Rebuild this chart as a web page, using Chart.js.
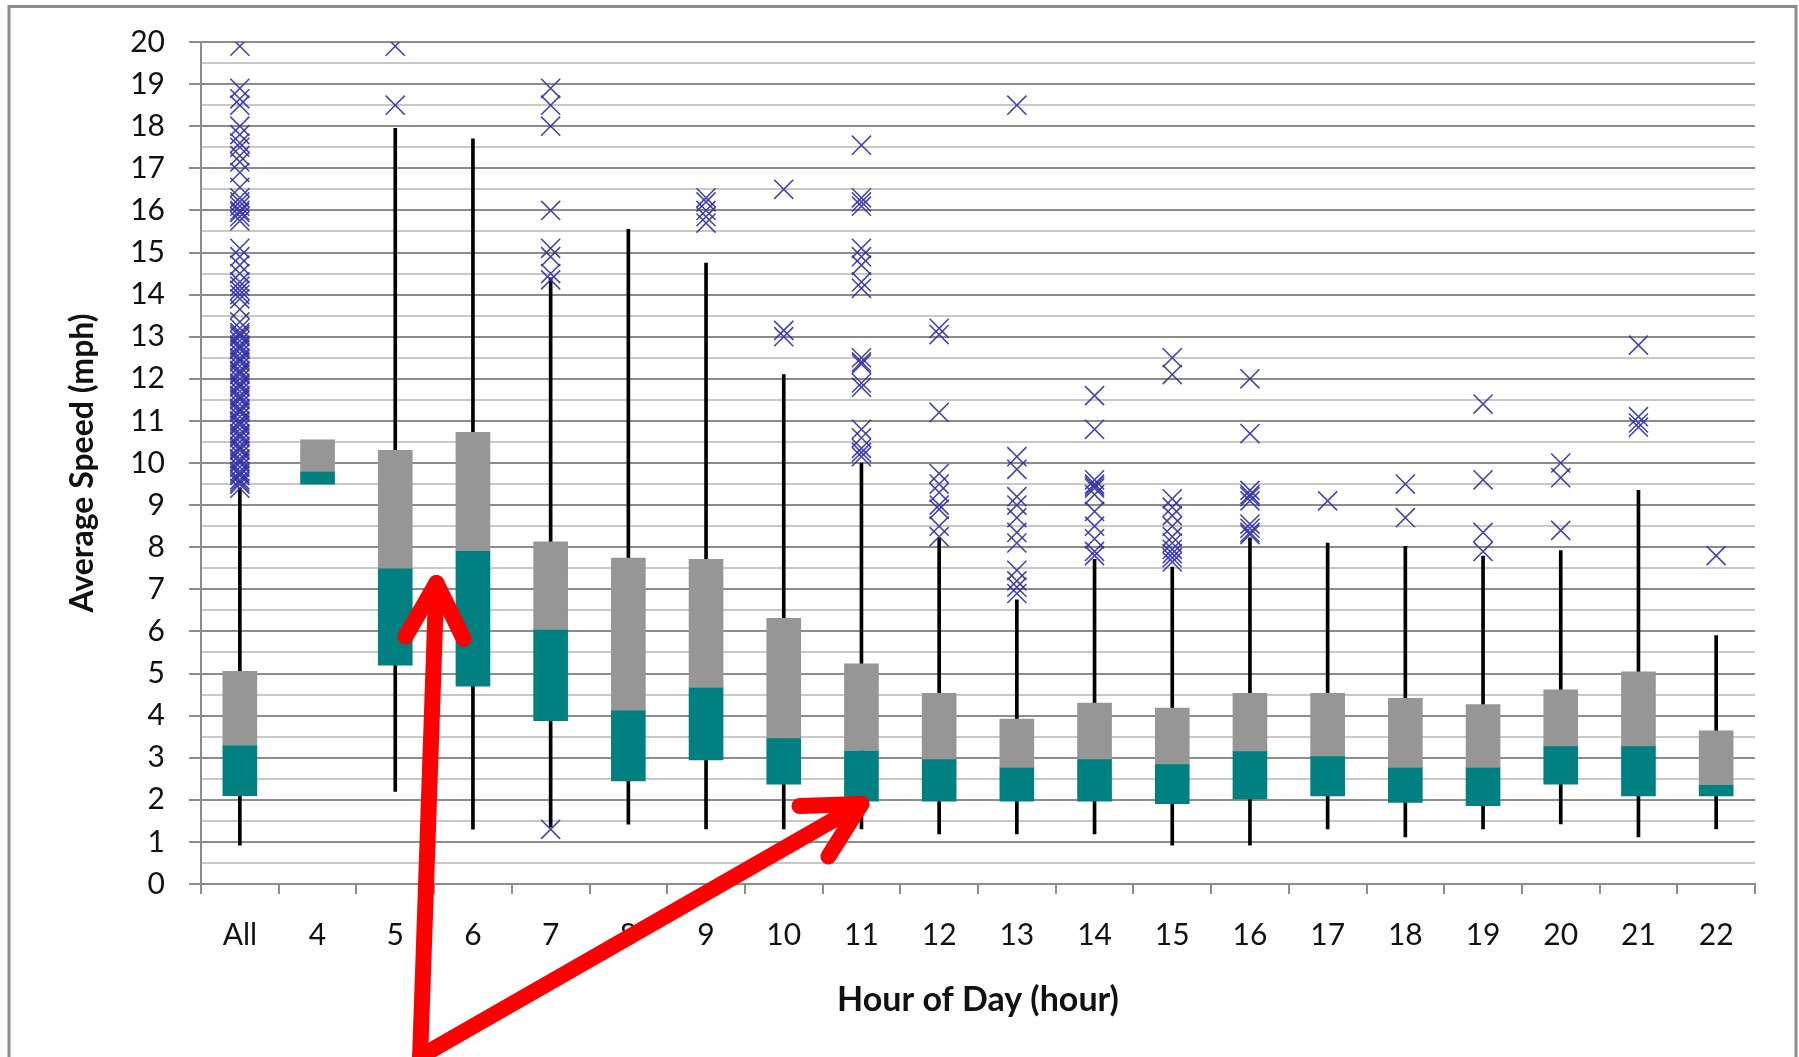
<!DOCTYPE html>
<html>
<head>
<meta charset="utf-8">
<script src="https://cdn.jsdelivr.net/npm/chart.js@4.4.1/dist/chart.umd.min.js"></script>
<style>
  html, body { margin: 0; padding: 0; background: #fff; }
  #wrap { width: 1799px; height: 1057px; }
</style>
</head>
<body>
<div id="wrap"><canvas id="speedChart" width="1799" height="1057"></canvas></div>
<script>
// categories and five-number summaries
var categories = ["All", "4", "5", "6", "7", "8", "9", "10", "11", "12", "13", "14", "15", "16", "17", "18", "19", "20", "21", "22"];
var whiskerLow = [0.92, null, 2.2, 1.3, 1.35, 1.42, 1.31, 1.31, 1.31, 1.19, 1.19, 1.19, 0.92, 0.92, 1.31, 1.12, 1.31, 1.43, 1.12, 1.31];
var q1 = [2.1, 9.5, 5.2, 4.7, 3.88, 2.45, 2.95, 2.37, 1.97, 1.97, 1.97, 1.97, 1.91, 2.02, 2.09, 1.94, 1.86, 2.37, 2.09, 2.09];
var median = [3.3, 9.8, 7.5, 7.92, 6.05, 4.13, 4.67, 3.47, 3.17, 2.97, 2.77, 2.97, 2.85, 3.16, 3.04, 2.77, 2.77, 3.28, 3.28, 2.36];
var q3 = [5.05, 10.55, 10.3, 10.73, 8.13, 7.74, 7.71, 6.31, 5.23, 4.53, 3.92, 4.3, 4.18, 4.53, 4.53, 4.41, 4.26, 4.61, 5.04, 3.64];
var whiskerHigh = [9.4, null, 17.95, 17.7, 14.4, 15.55, 14.75, 12.1, 10.0, 8.22, 6.75, 7.71, 7.53, 8.22, 8.1, 8.02, 7.79, 7.92, 9.35, 5.9];

var outliers = [
  [9.4, 9.5, 9.55, 9.6, 9.7, 9.75, 9.8, 9.9, 10.0, 10.05, 10.1, 10.2, 10.3, 10.35, 10.4, 10.5, 10.6, 10.65, 10.7, 10.8,
   10.9, 10.95, 11.0, 11.1, 11.2, 11.25, 11.3, 11.4, 11.5, 11.55, 11.6, 11.7, 11.8, 11.85, 11.9, 12.0, 12.1, 12.15, 12.2,
   12.3, 12.4, 12.45, 12.5, 12.6, 12.7, 12.75, 12.8, 12.9, 13.0, 13.05, 13.1, 13.2, 13.35, 13.65, 13.9, 14.0, 14.1, 14.2,
   14.3, 14.5, 14.7, 14.9, 15.1, 15.75, 15.85, 15.95, 16.0, 16.1, 16.2, 16.3, 16.55, 16.9, 17.15, 17.3, 17.5, 17.6,
   17.8, 18.0, 18.5, 18.65, 18.9, 19.9],
  [],
  [19.9, 18.5],
  [],
  [18.9, 18.5, 18.0, 16.0, 15.1, 14.9, 14.5, 14.35, 1.3],
  [],
  [16.3, 16.2, 16.0, 15.85, 15.7],
  [16.5, 13.15, 13.0],
  [17.55, 16.3, 16.2, 16.1, 15.1, 14.9, 14.7, 14.3, 14.15, 12.5, 12.4, 12.35, 11.9, 11.8, 10.8, 10.6, 10.35, 10.25, 10.15],
  [13.2, 13.05, 11.2, 9.75, 9.5, 9.3, 9.0, 8.9, 8.5, 8.25],
  [18.5, 10.15, 9.85, 9.2, 9.0, 8.7, 8.35, 8.1, 7.45, 7.2, 7.05, 6.9],
  [11.6, 10.8, 9.6, 9.5, 9.45, 9.4, 9.25, 8.85, 8.5, 8.2, 7.9, 7.8],
  [12.5, 12.1, 9.15, 8.95, 8.75, 8.5, 8.25, 8.1, 7.95, 7.85, 7.75, 7.65],
  [12.0, 10.7, 9.35, 9.25, 9.2, 9.1, 8.55, 8.45, 8.35, 8.3],
  [9.1],
  [9.5, 8.7],
  [11.4, 9.6, 8.35, 7.9],
  [10.0, 9.65, 8.4],
  [12.8, 11.1, 10.95, 10.85],
  [7.8]
];

// red arrows drawn over the chart, ends given in (category index, mph)
var arrows = [
  { from: [2.32, -4.1], to: [2.53, 7.15] },
  { from: [2.32, -4.1], to: [8.0, 1.9] }
];

var outlierPoints = [];
outliers.forEach(function (list, i) {
  list.forEach(function (v) { outlierPoints.push({ x: categories[i], y: v }); });
});

var FONT = "Lato, 'Open Sans', sans-serif";
var GRID_MAJOR = "#8c8c8c";
var GRID_MINOR = "#c8c8c8";

var framePlugin = {
  id: "frame",
  beforeDraw: function (chart) {
    var c = chart.ctx;
    c.save();
    c.fillStyle = "#fff";
    c.fillRect(0, 0, chart.width, chart.height);
    c.strokeStyle = "#8c8c8c";
    c.lineWidth = 3;
    c.strokeRect(9, 6.5, 1787, 1100);
    c.restore();
  },
  afterDraw: function (chart) {
    var c = chart.ctx;
    var xs = chart.scales.x, ys = chart.scales.y;
    c.save();
    c.strokeStyle = "#ff0000";
    c.lineWidth = 16;
    c.lineCap = "round";
    c.lineJoin = "round";
    arrows.forEach(function (a) {
      var x0 = xs.getPixelForValue(a.from[0]), y0 = ys.getPixelForValue(a.from[1]);
      var x1 = xs.getPixelForValue(a.to[0]), y1 = ys.getPixelForValue(a.to[1]);
      var ang = Math.atan2(y0 - y1, x0 - x1);
      var len = 62, spread = 28 * Math.PI / 180;
      c.beginPath();
      c.moveTo(x0, y0);
      c.lineTo(x1, y1);
      c.stroke();
      c.beginPath();
      c.moveTo(x1 + len * Math.cos(ang - spread), y1 + len * Math.sin(ang - spread));
      c.lineTo(x1, y1);
      c.lineTo(x1 + len * Math.cos(ang + spread), y1 + len * Math.sin(ang + spread));
      c.stroke();
    });
    c.restore();
  }
};

var ctx = document.getElementById("speedChart").getContext("2d");
var chart = new Chart(ctx, {
  type: "bar",
  data: {
    labels: categories,
    datasets: [
      {
        type: "line",
        label: "Outliers",
        data: outlierPoints,
        showLine: false,
        pointStyle: "crossRot",
        pointRadius: 13.5,
        pointBorderWidth: 1.6,
        pointBorderColor: "rgba(50, 50, 165, 0.9)",
        pointBackgroundColor: "rgba(0,0,0,0)",
        order: 0
      },
      {
        label: "Median - Q3",
        data: categories.map(function (c, i) { return [median[i], q3[i]]; }),
        backgroundColor: "#969696",
        barThickness: 34,
        grouped: false,
        order: 1
      },
      {
        label: "Q1 - Median",
        data: categories.map(function (c, i) { return [q1[i], median[i]]; }),
        backgroundColor: "#008080",
        barThickness: 34,
        grouped: false,
        order: 1
      },
      {
        label: "Whisker",
        data: categories.map(function (c, i) {
          return whiskerLow[i] === null ? null : [whiskerLow[i], whiskerHigh[i]];
        }),
        backgroundColor: "#000",
        barThickness: 3,
        grouped: false,
        order: 2
      }
    ]
  },
  options: {
    responsive: false,
    devicePixelRatio: 1,
    animation: false,
    layout: { padding: { top: 42, right: 44, left: 0, bottom: 0 } },
    plugins: { legend: { display: false }, tooltip: { enabled: false } },
    scales: {
      x: {
        offset: true,
        grid: { offset: true, drawOnChartArea: false, drawTicks: true, tickLength: 10, color: GRID_MAJOR, lineWidth: 2 },
        border: { color: GRID_MAJOR, width: 2 },
        ticks: { font: { family: FONT, size: 30 }, color: "#111", padding: 23, maxRotation: 0, autoSkip: false },
        title: {
          display: true,
          text: "Hour of Day (hour)",
          font: { family: FONT, size: 34, weight: "bold" },
          color: "#111",
          padding: { top: 0, bottom: 37 }
        },
        afterFit: function (s) { s.height = 173; }
      },
      y: {
        min: 0,
        max: 20,
        ticks: {
          stepSize: 0.5,
          autoSkip: false,
          font: { family: FONT, size: 30 },
          color: "#111",
          padding: 24,
          callback: function (v) { return Number.isInteger(v) ? v : ""; }
        },
        grid: {
          lineWidth: 2,
          tickLength: 12,
          color: function (c) { return Number.isInteger(c.tick.value) ? GRID_MAJOR : GRID_MINOR; },
          tickColor: function (c) { return Number.isInteger(c.tick.value) ? GRID_MAJOR : "rgba(0,0,0,0)"; }
        },
        border: { color: GRID_MAJOR, width: 2 },
        title: {
          display: true,
          text: "Average Speed (mph)",
          font: { family: FONT, size: 32, weight: "bold" },
          color: "#111",
          padding: { top: 63, bottom: 0 }
        },
        afterFit: function (s) { s.width = 201; }
      }
    }
  },
  plugins: [framePlugin]
});
</script>
</body>
</html>
